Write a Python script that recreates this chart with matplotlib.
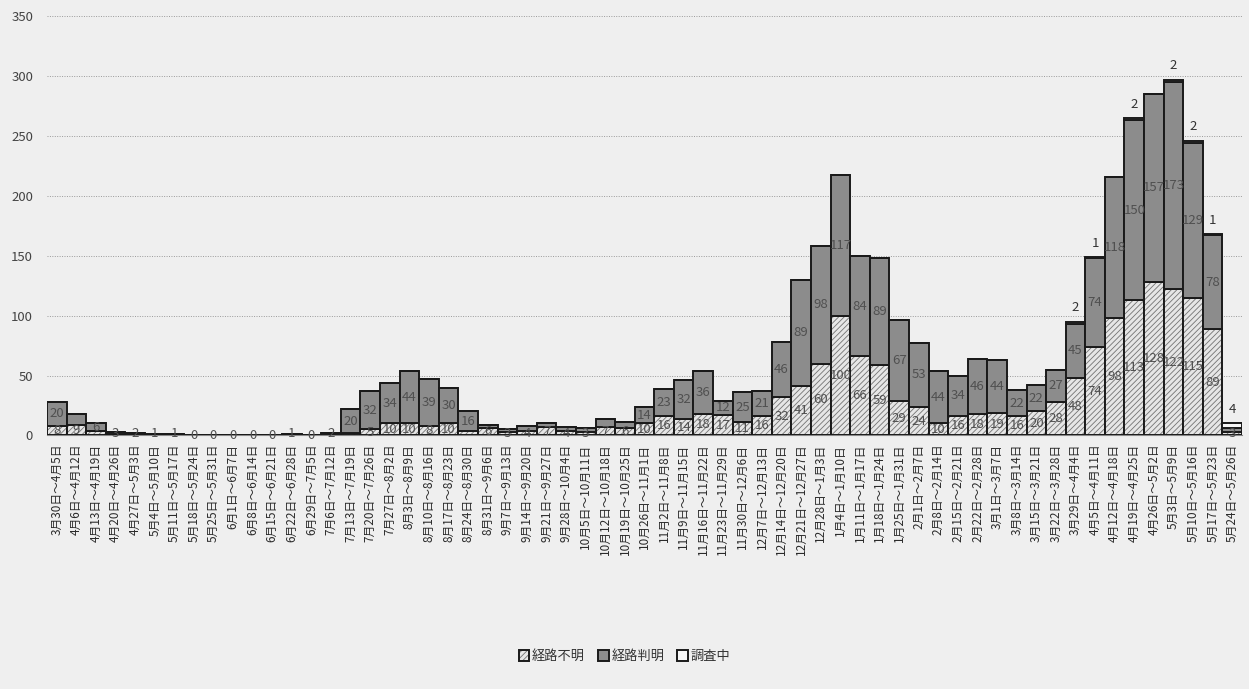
import matplotlib
matplotlib.use("Agg")
import matplotlib.pyplot as plt
import numpy as np

plt.rcParams['font.family'] = ['Noto Sans CJK JP', 'DejaVu Sans']
plt.rcParams['hatch.linewidth'] = 0.6

week_labels = [
    "3月30日～4月5日", "4月6日～4月12日", "4月13日～4月19日", "4月20日～4月26日",
    "4月27日～5月3日", "5月4日～5月10日", "5月11日～5月17日", "5月18日～5月24日",
    "5月25日～5月31日", "6月1日～6月7日", "6月8日～6月14日", "6月15日～6月21日",
    "6月22日～6月28日", "6月29日～7月5日", "7月6日～7月12日", "7月13日～7月19日",
    "7月20日～7月26日", "7月27日～8月2日", "8月3日～8月9日", "8月10日～8月16日",
    "8月17日～8月23日", "8月24日～8月30日", "8月31日～9月6日", "9月7日～9月13日",
    "9月14日～9月20日", "9月21日～9月27日", "9月28日～10月4日", "10月5日～10月11日",
    "10月12日～10月18日", "10月19日～10月25日", "10月26日～11月1日", "11月2日～11月8日",
    "11月9日～11月15日", "11月16日～11月22日", "11月23日～11月29日", "11月30日～12月6日",
    "12月7日～12月13日", "12月14日～12月20日", "12月21日～12月27日", "12月28日～1月3日",
    "1月4日～1月10日", "1月11日～1月17日", "1月18日～1月24日", "1月25日～1月31日",
    "2月1日～2月7日", "2月8日～2月14日", "2月15日～2月21日", "2月22日～2月28日",
    "3月1日～3月7日", "3月8日～3月14日", "3月15日～3月21日", "3月22日～3月28日",
    "3月29日～4月4日", "4月5日～4月11日", "4月12日～4月18日", "4月19日～4月25日",
    "4月26日～5月2日", "5月3日～5月9日", "5月10日～5月16日", "5月17日～5月23日",
    "5月24日～5月26日",
]

# 経路不明 (bottom, hatched)
route_unknown = [8, 9, 4, 1, 0, 0, 0, 0, 0, 0, 0, 0, 0, 0, 0, 2, 5, 10, 10, 8,
                 10, 4, 6, 3, 4, 7, 4, 3, 7, 6, 10, 16, 14, 18, 17, 11, 16, 32, 41, 60,
                 100, 66, 59, 29, 24, 10, 16, 18, 19, 16, 20, 28, 48, 74, 98, 113, 128, 122, 115, 89,
                 3]
# 経路判明 (middle, dark)
route_known = [20, 9, 6, 2, 2, 1, 1, 0, 0, 0, 0, 0, 1, 0, 2, 20, 32, 34, 44, 39,
               30, 16, 3, 2, 4, 3, 3, 3, 7, 5, 14, 23, 32, 36, 12, 25, 21, 46, 89, 98,
               117, 84, 89, 67, 53, 44, 34, 46, 44, 22, 22, 27, 45, 74, 118, 150, 157, 173, 129, 78,
               3]
# 調査中 (top, white)
investigating = [0] * 52 + [2, 1, 0, 2, 0, 2, 2, 1, 4]

series_names = ["経路不明", "経路判明", "調査中"]

bg = "#efefef"
fig = plt.figure(figsize=(12.49, 6.89), dpi=100, facecolor=bg)
ax = fig.add_axes([0.0376, 0.368, 0.9568, 0.6088], facecolor=bg)

x = np.arange(len(week_labels))
u = np.array(route_unknown)
k = np.array(route_known)
q = np.array(investigating)

lw = 1.4
b1 = ax.bar(x, u, width=1.0, color="#e6e6e6", edgecolor="#1a1a1a", linewidth=lw,
            hatch="//////", label=series_names[0], zorder=3)
for p in b1:
    p._hatch_color = (0.45, 0.45, 0.45, 1.0)
b2 = ax.bar(x, k, bottom=u, width=1.0, color="#8c8c8c", edgecolor="#1a1a1a", linewidth=lw,
            label=series_names[1], zorder=3)
b3 = ax.bar(x, q, bottom=u + k, width=1.0, color="#f7f7f7", edgecolor="#1a1a1a", linewidth=lw,
            label=series_names[2], zorder=3)

lab_color = "#505050"
fs = 9.5
for i in range(len(x)):
    tot = u[i] + k[i] + q[i]
    if tot == 0:
        ax.text(x[i], 0, "0", ha="center", va="center", fontsize=fs, color=lab_color, zorder=5)
        continue
    if u[i] + k[i] <= 4:
        # tiny bar: a single label near the baseline
        ax.text(x[i], 1.5, str(u[i] + k[i]), ha="center", va="center", fontsize=fs,
                color=lab_color, zorder=5)
    else:
        show_u = u[i] >= 5 or (u[i] > 0 and k[i] < 5)
        show_k = k[i] >= 10 or (k[i] >= 5 and not show_u)
        if show_u:
            ax.text(x[i], u[i] / 2, str(u[i]), ha="center", va="center", fontsize=fs,
                    color=lab_color, zorder=5)
        if show_k:
            ax.text(x[i], u[i] + k[i] / 2, str(k[i]), ha="center", va="center", fontsize=fs,
                    color=lab_color, zorder=5)
    if q[i] > 0:
        ax.text(x[i], tot + 6, str(q[i]), ha="center", va="bottom", fontsize=fs,
                color="#333333", zorder=5)

ax.set_xlim(-0.5, len(x) - 0.5)
ax.set_ylim(0, 350)
ax.set_yticks(range(0, 351, 50))
ax.yaxis.grid(True, linestyle=(0, (1, 1.5)), color="#9a9a9a", linewidth=0.7, zorder=0)
ax.set_axisbelow(True)
for s in ["top", "right", "left"]:
    ax.spines[s].set_visible(False)
ax.spines["bottom"].set_color("#888888")
ax.tick_params(axis="y", length=0, labelsize=9.5, labelcolor="#444444", pad=10)
ax.tick_params(axis="x", length=0, labelsize=8.5, labelcolor="#2a2a2a", pad=6)
ax.set_xticks(x)
ax.set_xticklabels(week_labels, rotation=90, ha="center", va="top")

leg = fig.legend(handles=[b1, b2, b3], labels=series_names, loc="center",
                 bbox_to_anchor=(0.5, 0.047), ncol=3, frameon=False, fontsize=9.5,
                 handlelength=0.8, handleheight=0.8, handletextpad=0.2, columnspacing=1.0)
for t in leg.get_texts():
    t.set_color("#333333")

fig.savefig("out.png", dpi=100, facecolor=bg)
